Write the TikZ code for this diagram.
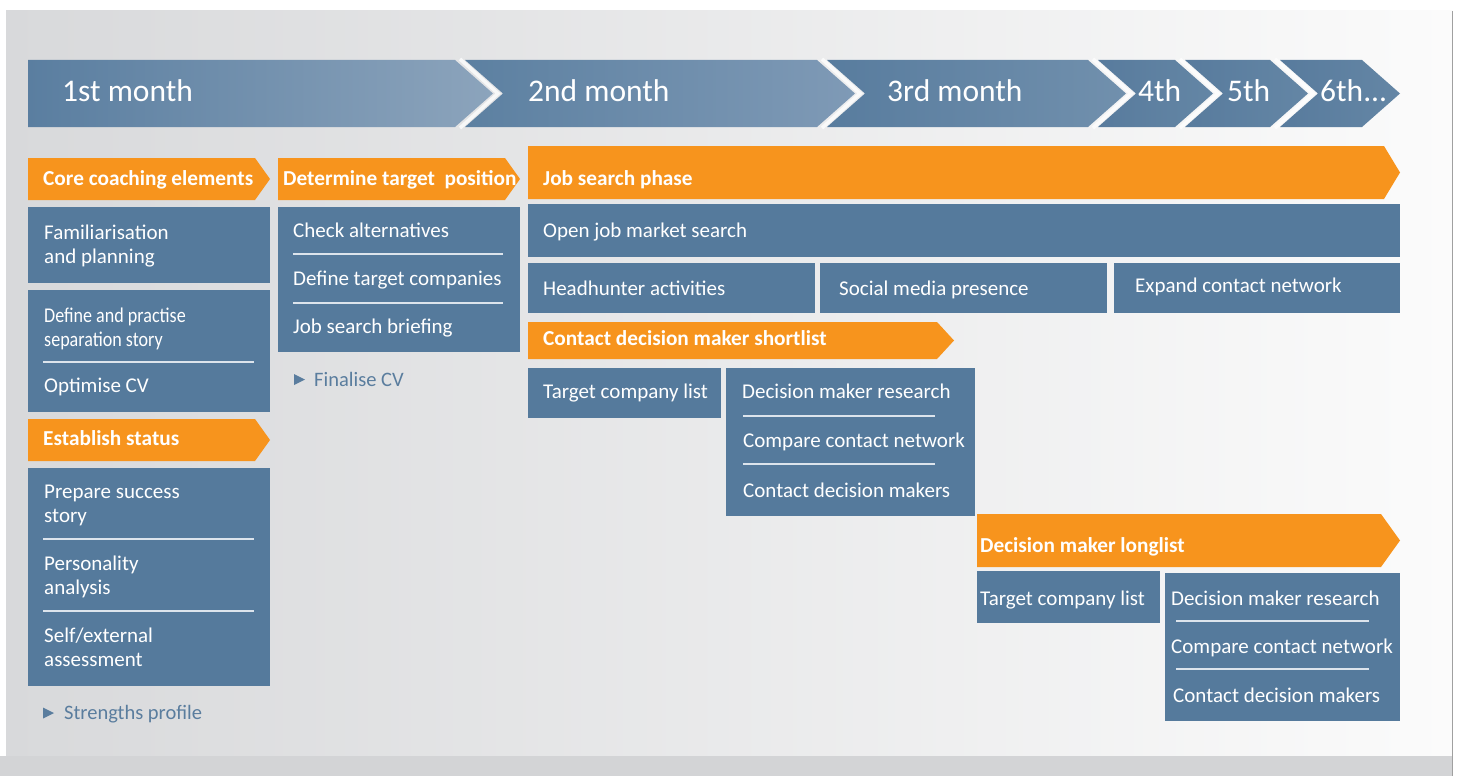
\documentclass[tikz,border=0pt]{standalone}
\usepackage{fontspec}
\setmainfont{Carlito}
\newfontfamily\condfont[FakeStretch=0.86]{Carlito}
\definecolor{panelL}{HTML}{D8D9DB}
\definecolor{panelR}{HTML}{FBFBFB}
\definecolor{stripgrey}{HTML}{D3D4D6}
\definecolor{edgegrey}{HTML}{A0A0A0}
\definecolor{boxblue}{HTML}{557A9C}
\definecolor{accent}{HTML}{F7941D}
\definecolor{notecol}{HTML}{5A7D9E}
\definecolor{divcol}{HTML}{DCE4EC}
\definecolor{segA}{HTML}{5A7EA0}
\definecolor{segB}{HTML}{8CA4BC}
\definecolor{segC}{HTML}{5C80A1}
\definecolor{segD}{HTML}{7F9AB6}
\definecolor{segE}{HTML}{587C9E}
\definecolor{segF}{HTML}{7190AD}
\definecolor{segG}{HTML}{587B9D}
\definecolor{segH}{HTML}{6486A5}

% month chevron: left x, right x (top corners), two shading colours
\newcommand\MonthChevron[4]{%
  \shade[left color=#3, right color=#4]
    (#1,60) -- (#2,60) -- ({#2+38},93.5) -- (#2,127) -- (#1,127) -- ({#1+38},93.5) -- cycle;}
% light seam between two chevrons
\newcommand\MonthSeam[1]{%
  \draw[white, line width=3.5pt, opacity=0.75] (#1,59) -- ({#1+38},93.5) -- (#1,128);}
% orange phase arrow: left, top, flat end, tip, bottom
\newcommand\PhaseArrow[5]{%
  \fill[accent] (#1,#2) -- (#3,#2) -- (#4,{(#2+#5)/2}) -- (#3,#5) -- (#1,#5) -- cycle;}
% blue content box: left, top, right, bottom
\newcommand\ItemBox[4]{\fill[boxblue] (#1,#2) rectangle (#3,#4);}
% white separator inside a box: from x, to x, at y
\newcommand\DivLine[3]{\draw[divcol, line width=1.6pt] (#1,#3) -- (#2,#3);}
% small pointer triangle: left x, centre y
\newcommand\NoteMark[2]{\fill[notecol] (#1,{#2-5.5}) -- ({#1+11},#2) -- (#1,{#2+5.5}) -- cycle;}
\newcommand\TwoLines[2]{\begin{tabular}[t]{@{}l@{}}#1\\#2\end{tabular}}

\begin{document}
\begin{tikzpicture}[x=1pt, y=-1pt,
  monthtext/.style={text=white, font=\fontsize{31.5}{36}\selectfont, anchor=base west, inner sep=0pt},
  itemtext/.style={text=white, font=\fontsize{21}{24}\selectfont, anchor=base west, inner sep=0pt},
  phasetext/.style={text=white, font=\fontsize{21.3}{25}\selectfont\bfseries, anchor=base west, inner sep=0pt},
  notetext/.style={text=notecol, font=\fontsize{20.5}{24}\selectfont, anchor=base west, inner sep=0pt}]
\useasboundingbox (0,0) rectangle (1459,776);
\fill[white] (0,0) rectangle (1459,776);

% backdrop
\shade[left color=panelL, right color=panelR] (6,11) rectangle (1452,756);
\fill[stripgrey] (0,756) rectangle (1452,776);
\draw[edgegrey, line width=1.2pt] (1452.6,11) -- (1452.6,776);

% month band
\shade[left color=segA, right color=segB]
  (28,60) -- (455,60) -- (493,93.5) -- (455,127) -- (28,127) -- cycle;
\MonthChevron{465}{817}{segC}{segD}
\MonthChevron{827}{1088}{segE}{segF}
\MonthChevron{1098}{1175}{segG}{segH}
\MonthChevron{1185}{1270}{segG}{segH}
\MonthChevron{1280}{1362}{segG}{segH}
\MonthSeam{460}
\MonthSeam{822}
\MonthSeam{1093}
\MonthSeam{1180}
\MonthSeam{1275}
\node[monthtext] (m1) at (62,101) {1st month};
\node[monthtext] (m2) at (528,101) {2nd month};
\node[monthtext] (m3) at (887,101) {3rd month};
\node[monthtext] (m4) at (1138,101) {4th};
\node[monthtext] (m5) at (1227,101) {5th};
\node[monthtext] (m6) at (1320,101) {6th...};

% first column: core coaching elements
\PhaseArrow{28}{158}{255}{270}{200}
\node[phasetext] (core) at (43,185) {Core coaching elements};
\ItemBox{28}{207}{270}{283}
\node[itemtext] (fam) at (44,239) {\TwoLines{Familiarisation}{and planning}};
\ItemBox{28}{290}{270}{412}
\node[itemtext] (sep) at (44,322) {\condfont\TwoLines{Define and practise}{separation story}};
\DivLine{43}{254}{362}
\node[itemtext] (cv) at (44,392) {Optimise CV};

\PhaseArrow{28}{419}{255}{270}{461}
\node[phasetext] (status) at (43,445) {Establish status};
\ItemBox{28}{468}{270}{686}
\node[itemtext] (succ) at (44,498) {\TwoLines{Prepare success}{story}};
\DivLine{43}{254}{539}
\node[itemtext] (pers) at (44,570) {\TwoLines{Personality}{analysis}};
\DivLine{43}{254}{611}
\node[itemtext] (self) at (44,642) {\TwoLines{Self/external}{assessment}};
\NoteMark{43}{713}
\node[notetext] (str) at (64,719) {Strengths profile};

% second column: target position
\PhaseArrow{278}{158}{505}{520}{200}
\node[phasetext] (target) at (283,185) {Determine target\ \ position};
\ItemBox{278}{207}{520}{352}
\node[itemtext] (alt) at (293,237) {Check alternatives};
\DivLine{293}{503}{254}
\node[itemtext] (comp) at (293,285) {Define target companies};
\DivLine{293}{503}{303}
\node[itemtext] (brief) at (293,333) {Job search briefing};
\NoteMark{294}{379.5}
\node[notetext] (fcv) at (314,386) {Finalise CV};

% job search phase
\PhaseArrow{528}{146}{1384}{1400}{199}
\node[phasetext] (jsp) at (543,185) {Job search phase};
\ItemBox{528}{204}{1400}{257}
\node[itemtext] (open) at (543,237) {Open job market search};
\ItemBox{528}{263}{815}{313}
\node[itemtext] (head) at (543,295) {Headhunter activities};
\ItemBox{820}{263}{1107}{313}
\node[itemtext] (soc) at (839,295) {Social media presence};
\ItemBox{1114}{263}{1400}{313}
\node[itemtext] (net) at (1135,292) {Expand contact network};

% decision maker shortlist
\PhaseArrow{528}{322}{937}{954}{359}
\node[phasetext] (short) at (543,345) {Contact decision maker shortlist};
\ItemBox{528}{368}{721}{418}
\node[itemtext] (tcl1) at (543,398) {Target company list};
\ItemBox{726}{368}{975}{516}
\node[itemtext] (dmr1) at (742,398) {Decision maker research};
\DivLine{743}{935}{416}
\node[itemtext] (ccn1) at (743,447) {Compare contact network};
\DivLine{743}{935}{464}
\node[itemtext] (cdm1) at (743,497) {Contact decision makers};

% decision maker longlist
\PhaseArrow{977}{514}{1381}{1400}{567}
\node[phasetext] (long) at (980,552) {Decision maker longlist};
\ItemBox{977}{571}{1160}{623}
\node[itemtext] (tcl2) at (980,605) {Target company list};
\ItemBox{1165}{573}{1400}{721}
\node[itemtext] (dmr2) at (1171,605) {Decision maker research};
\DivLine{1176}{1369}{621}
\node[itemtext] (ccn2) at (1171,653) {Compare contact network};
\DivLine{1176}{1369}{669}
\node[itemtext] (cdm2) at (1173,702) {Contact decision makers};
\end{tikzpicture}
\end{document}
